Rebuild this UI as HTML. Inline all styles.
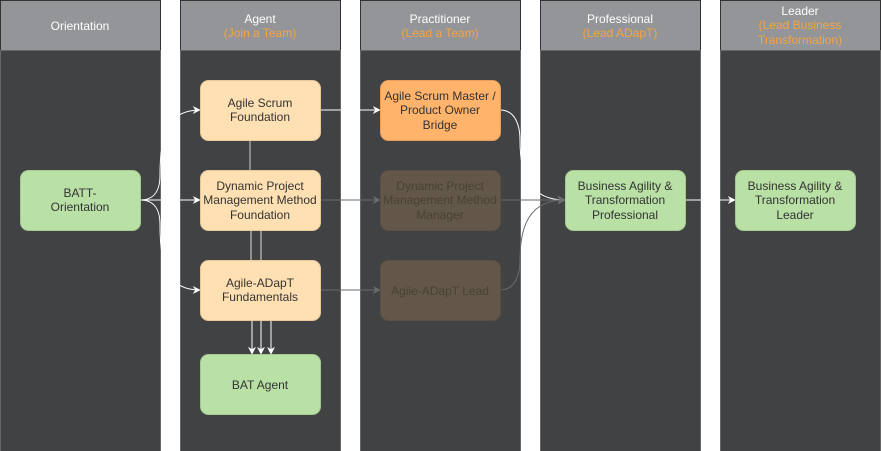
<!DOCTYPE html>
<html><head><meta charset="utf-8"><style>
html,body{margin:0;padding:0;background:#fff;}
svg{display:block;font-family:"Liberation Sans",Arial,sans-serif;}
</style></head><body>
<svg width="881" height="451" viewBox="0 0 881 451" xmlns="http://www.w3.org/2000/svg">
<defs>
<marker id="aw" viewBox="0 0 10 10" refX="9" refY="5" markerWidth="8" markerHeight="8" orient="auto" markerUnits="userSpaceOnUse"><path d="M0,0 L10,5 L0,10 L3,5 z" fill="#fff"/></marker>
<marker id="ag" viewBox="0 0 10 10" refX="9" refY="5" markerWidth="8" markerHeight="8" orient="auto" markerUnits="userSpaceOnUse"><path d="M0,0 L10,5 L0,10 L3,5 z" fill="#6b6b6b"/></marker>
</defs>
<rect width="881" height="451" fill="#fff"/>
<g stroke="#333" stroke-width="1">
<rect x="0.5" y="0.5" width="160" height="50" fill="#939598"/><rect x="0.5" y="50.5" width="160" height="401" fill="#414244" stroke="#666"/>
<rect x="180.5" y="0.5" width="160" height="50" fill="#939598"/><rect x="180.5" y="50.5" width="160" height="401" fill="#414244" stroke="#666"/>
<rect x="360.5" y="0.5" width="160" height="50" fill="#939598"/><rect x="360.5" y="50.5" width="160" height="401" fill="#414244" stroke="#666"/>
<rect x="540.5" y="0.5" width="160" height="50" fill="#939598"/><rect x="540.5" y="50.5" width="160" height="401" fill="#414244" stroke="#666"/>
<rect x="720.5" y="0.5" width="160" height="50" fill="#939598"/><rect x="720.5" y="50.5" width="160" height="401" fill="#414244" stroke="#666"/>
</g>
<g font-size="12" text-anchor="middle" fill="#fff">
<text x="80" y="30">Orientation</text>
<text x="260" y="23">Agent</text><text x="260" y="37" fill="#f5a442">(Join a Team)</text>
<text x="440" y="23">Practitioner</text><text x="440" y="37" fill="#f5a442">(Lead a Team)</text>
<text x="620" y="23">Professional</text><text x="620" y="37" fill="#f5a442">(Lead ADapT)</text>
<text x="800" y="15">Leader</text><text x="800" y="29" fill="#f5a442">(Lead Business</text><text x="800" y="44" fill="#f5a442">Transformation)</text>
</g>
<g fill="none" stroke-width="1">
<path d="M140,200 C155,200 160,190 160,175 C160,130 170,110 200,110" stroke="#fff" marker-end="url(#aw)"/>
<path d="M140,200 L200,200" stroke="#fff" marker-end="url(#aw)"/>
<path d="M140,200 C155,200 160,210 160,225 C160,270 170,290 200,290" stroke="#fff" marker-end="url(#aw)"/>
<path d="M320,110 L380,110" stroke="#fff" marker-end="url(#aw)"/>
<path d="M320,200 L380,200" stroke="#6b6b6b" marker-end="url(#ag)"/>
<path d="M320,290 L380,290" stroke="#6b6b6b" marker-end="url(#ag)"/>
<path d="M250,141 L250,170" stroke="#ccc"/>
<path d="M251,231 L251,260" stroke="#ddd"/>
<path d="M261,231 L261,260" stroke="#ddd"/>
<path d="M252,321 L252,354" stroke="#fff" marker-end="url(#aw)"/>
<path d="M261,321 L261,354" stroke="#fff" marker-end="url(#aw)"/>
<path d="M271,321 L271,354" stroke="#fff" marker-end="url(#aw)"/>
<path d="M500,110 C515,110 520,125 520,140 C520,175 530,200 565,200" stroke="#fff" marker-end="url(#aw)"/>
<path d="M500,200 L565,200" stroke="#6b6b6b" marker-end="url(#ag)"/>
<path d="M500,290 C515,290 520,275 520,260 C520,225 530,200 565,200" stroke="#6b6b6b"/>
<path d="M685,200 L735,200" stroke="#fff" marker-end="url(#aw)"/>
</g>
<g stroke-width="1">
<rect x="20.5" y="170.5" width="120" height="60" rx="8" fill="#b9e0a5" stroke="#a5c990"/>
<rect x="200.5" y="80.5" width="120" height="60" rx="8" fill="#ffe0b2" stroke="#e8c89a"/>
<rect x="200.5" y="170.5" width="120" height="60" rx="8" fill="#ffe0b2" stroke="#e8c89a"/>
<rect x="200.5" y="260.5" width="120" height="60" rx="8" fill="#ffe0b2" stroke="#e8c89a"/>
<rect x="200.5" y="354.5" width="120" height="60" rx="8" fill="#b9e0a5" stroke="#a5c990"/>
<rect x="380.5" y="80.5" width="120" height="60" rx="8" fill="#ffb36b" stroke="#e89e5c"/>
<rect x="380.5" y="170.5" width="120" height="60" rx="8" fill="#635749" stroke="#5a4f43"/>
<rect x="380.5" y="260.5" width="120" height="60" rx="8" fill="#635749" stroke="#5a4f43"/>
<rect x="565.5" y="170.5" width="120" height="60" rx="8" fill="#b9e0a5" stroke="#a5c990"/>
<rect x="735.5" y="170.5" width="120" height="60" rx="8" fill="#b9e0a5" stroke="#a5c990"/>
</g>
<g font-size="12" text-anchor="middle" fill="#333">
<text x="80" y="197">BATT-</text><text x="80" y="211">Orientation</text>
<text x="260" y="107">Agile Scrum</text><text x="260" y="121">Foundation</text>
<text x="260" y="190">Dynamic Project</text><text x="260" y="204">Management Method</text><text x="260" y="219">Foundation</text>
<text x="260" y="287">Agile-ADapT</text><text x="260" y="301">Fundamentals</text>
<text x="260" y="389">BAT Agent</text>
<text x="440" y="100">Agile Scrum Master /</text><text x="440" y="114">Product Owner</text><text x="440" y="129">Bridge</text>
<text x="440" y="190" fill="#4a4036">Dynamic Project</text><text x="440" y="204" fill="#4a4036">Management Method</text><text x="440" y="219" fill="#4a4036">Manager</text>
<text x="440" y="295" fill="#4a4036">Agile-ADapT Lead</text>
<text x="625" y="190">Business Agility &amp;</text><text x="625" y="204">Transformation</text><text x="625" y="219">Professional</text>
<text x="795" y="190">Business Agility &amp;</text><text x="795" y="204">Transformation</text><text x="795" y="219">Leader</text>
</g>
</svg>
</body></html>
